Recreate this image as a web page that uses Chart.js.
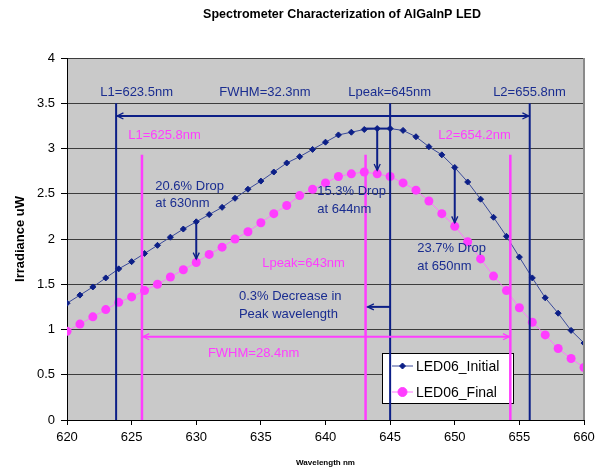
<!DOCTYPE html>
<html>
<head>
<meta charset="utf-8">
<script src="https://cdn.jsdelivr.net/npm/chart.js@4.4.1/dist/chart.umd.min.js"></script>
<style>
  body { margin: 0; background: #ffffff; }
  #wrap { width: 610px; height: 472px; }
</style>
</head>
<body>
<div id="wrap"><canvas id="spectroChart" width="610" height="472"></canvas></div>
<script>
// wavelength (nm), one reading per nm
const wavelengths = [
  620, 621, 622, 623, 624, 625, 626, 627, 628, 629,
  630, 631, 632, 633, 634, 635, 636, 637, 638, 639,
  640, 641, 642, 643, 644, 645, 646, 647, 648, 649,
  650, 651, 652, 653, 654, 655, 656, 657, 658, 659, 660
];

// irradiance (uW)
const initialIrr = [
  1.29, 1.38, 1.47, 1.57, 1.67, 1.75, 1.84, 1.93, 2.02, 2.11,
  2.19, 2.27, 2.35, 2.45, 2.55, 2.64, 2.74, 2.84, 2.91, 2.99,
  3.07, 3.15, 3.18, 3.21, 3.22, 3.22, 3.20, 3.13, 3.02, 2.93,
  2.79, 2.63, 2.44, 2.24, 2.03, 1.80, 1.57, 1.35, 1.18, 0.99, 0.85
];

const finalIrr = [
  0.98, 1.06, 1.14, 1.22, 1.30, 1.36, 1.43, 1.50, 1.58, 1.66,
  1.74, 1.83, 1.91, 2.00, 2.08, 2.18, 2.28, 2.37, 2.48, 2.55,
  2.62, 2.69, 2.72, 2.74, 2.72, 2.69, 2.62, 2.54, 2.42, 2.28,
  2.14, 1.97, 1.78, 1.59, 1.43, 1.24, 1.08, 0.94, 0.79, 0.68, 0.58
];

const xTicks = [620, 625, 630, 635, 640, 645, 650, 655, 660];
const yTicks = [0, 0.5, 1, 1.5, 2, 2.5, 3, 3.5, 4];

// L1, Lpeak, L2 marker lines
const initialMarks = [623.8, 645, 655.8];
const finalMarks = [625.8, 643.1, 654.3];
const initialMarkTop = 3.5;
const finalMarkTop = 2.93;
const initialFwhmLevel = 3.36;
const finalFwhmLevel = 0.92;
const shiftLevel = 1.25;
const dropAt = [630, 644, 650];

const NAVY = '#0c1f87';
const NAVY_TEXT = '#1a2d90';
const PINK = '#ff3dff';
const FONT = '"Liberation Sans", Arial, sans-serif';

const labelsText = [
  { t: 'L1=623.5nm',       x: 622.58, y: 3.62, c: NAVY_TEXT },
  { t: 'FWHM=32.3nm',      x: 631.78, y: 3.62, c: NAVY_TEXT },
  { t: 'Lpeak=645nm',      x: 641.76, y: 3.62, c: NAVY_TEXT },
  { t: 'L2=655.8nm',       x: 652.97, y: 3.62, c: NAVY_TEXT },
  { t: 'L1=625.8nm',       x: 624.74, y: 3.14, c: PINK },
  { t: 'L2=654.2nm',       x: 648.72, y: 3.14, c: PINK },
  { t: '20.6% Drop',       x: 626.83, y: 2.58, c: NAVY_TEXT },
  { t: 'at 630nm',         x: 626.83, y: 2.39, c: NAVY_TEXT },
  { t: '15.3% Drop',       x: 639.36, y: 2.53, c: NAVY_TEXT },
  { t: 'at 644nm',         x: 639.36, y: 2.33, c: NAVY_TEXT },
  { t: 'Lpeak=643nm',      x: 635.1,  y: 1.735, c: PINK },
  { t: '23.7% Drop',       x: 647.1,  y: 1.90, c: NAVY_TEXT },
  { t: 'at 650nm',         x: 647.1,  y: 1.70, c: NAVY_TEXT },
  { t: '0.3% Decrease in', x: 633.3,  y: 1.37, c: NAVY_TEXT },
  { t: 'Peak wavelength',  x: 633.3,  y: 1.17, c: NAVY_TEXT },
  { t: 'FWHM=28.4nm',      x: 630.9,  y: 0.74, c: PINK }
];

function seg(ctx, x1, y1, x2, y2, color, w) {
  ctx.beginPath();
  ctx.strokeStyle = color;
  ctx.lineWidth = w;
  ctx.moveTo(x1, y1);
  ctx.lineTo(x2, y2);
  ctx.stroke();
}

function arrowHead(ctx, x, y, angle, color) {
  const len = 7;
  ctx.beginPath();
  ctx.strokeStyle = color;
  ctx.lineWidth = 1.3;
  ctx.moveTo(x - len * Math.cos(angle - 0.45), y - len * Math.sin(angle - 0.45));
  ctx.lineTo(x, y);
  ctx.lineTo(x - len * Math.cos(angle + 0.45), y - len * Math.sin(angle + 0.45));
  ctx.stroke();
}

const decorPlugin = {
  id: 'decor',
  beforeDraw(chart) {
    const { ctx, chartArea: a } = chart;
    ctx.save();
    ctx.fillStyle = '#c9c9c9';
    ctx.fillRect(a.left, a.top, a.right - a.left, a.bottom - a.top);
    ctx.restore();
  },
  afterDatasetsDraw(chart) {
    const { ctx, chartArea: a } = chart;
    const xs = chart.scales.x;
    const ys = chart.scales.y;
    const px = v => xs.getPixelForValue(v);
    const py = v => ys.getPixelForValue(v);
    ctx.save();

    // right border of the plot
    seg(ctx, a.right, a.top, a.right, a.bottom, '#8a8a8a', 2);

    // legend box
    const lx = a.left + 315, ly = a.top + 295, lw = 131, lh = 50;
    ctx.fillStyle = '#ffffff';
    ctx.fillRect(lx, ly, lw, lh);
    ctx.strokeStyle = '#000000';
    ctx.lineWidth = 1;
    ctx.strokeRect(lx + 0.5, ly + 0.5, lw, lh);
    const legendRows = [
      { name: 'LED06_Initial', line: '#3a4a9a', dot: NAVY, style: 'rectRot', r: 3 },
      { name: 'LED06_Final', line: '#ff77ff', dot: PINK, style: 'circle', r: 4.5 }
    ];
    legendRows.forEach((row, i) => {
      const ry = ly + 13 + i * 26;
      seg(ctx, lx + 10, ry, lx + 31, ry, row.line, 1);
      ctx.fillStyle = row.dot;
      ctx.strokeStyle = row.dot;
      Chart.helpers.drawPoint(ctx, { pointStyle: row.style, radius: row.r, borderWidth: 1 }, lx + 20.5, ry);
      ctx.fillStyle = '#000000';
      ctx.font = '14px ' + FONT;
      ctx.textAlign = 'left';
      ctx.textBaseline = 'middle';
      ctx.fillText(row.name, lx + 34, ry + 1);
    });

    // marker lines
    initialMarks.forEach(m => seg(ctx, px(m), py(initialMarkTop), px(m), a.bottom, NAVY, 2));
    finalMarks.forEach(m => seg(ctx, px(m), py(finalMarkTop), px(m), a.bottom, PINK, 2.5));

    // FWHM arrows
    const fy1 = py(initialFwhmLevel);
    seg(ctx, px(initialMarks[0]) + 1, fy1, px(initialMarks[2]) - 1, fy1, NAVY, 2);
    arrowHead(ctx, px(initialMarks[0]) + 1, fy1, Math.PI, NAVY);
    arrowHead(ctx, px(initialMarks[2]) - 1, fy1, 0, NAVY);

    const fy2 = py(finalFwhmLevel);
    seg(ctx, px(finalMarks[0]) + 1, fy2, px(finalMarks[2]) - 1, fy2, PINK, 2);
    arrowHead(ctx, px(finalMarks[0]) + 1, fy2, Math.PI, PINK);
    arrowHead(ctx, px(finalMarks[2]) - 1, fy2, 0, PINK);

    // peak shift arrow
    const sy = py(shiftLevel);
    seg(ctx, px(initialMarks[1]), sy, px(finalMarks[1]) + 2, sy, NAVY, 2);
    arrowHead(ctx, px(finalMarks[1]) + 2, sy, Math.PI, NAVY);

    // flat top around the initial peak
    seg(ctx, px(643), py(3.22), px(645), py(3.22), NAVY, 2);

    // drop arrows
    dropAt.forEach(w => {
      const i = wavelengths.indexOf(w);
      const x = px(w);
      const y1 = py(initialIrr[i]);
      const y2 = py(finalIrr[i] + 0.04);
      seg(ctx, x, y1, x, y2, NAVY, 2);
      arrowHead(ctx, x, y2, Math.PI / 2, NAVY);
    });

    // annotation texts
    ctx.font = '13px ' + FONT;
    ctx.textAlign = 'left';
    ctx.textBaseline = 'middle';
    labelsText.forEach(l => {
      ctx.fillStyle = l.c;
      ctx.fillText(l.t, px(l.x), py(l.y));
    });

    // titles
    ctx.fillStyle = '#000000';
    ctx.textAlign = 'center';
    ctx.font = 'bold 12.5px ' + FONT;
    ctx.fillText('Spectrometer Characterization of AlGaInP LED', 342, 15);
    ctx.font = 'bold 8px ' + FONT;
    ctx.fillText('Wavelength nm', (a.left + a.right) / 2, 463);
    ctx.save();
    ctx.translate(20, (a.top + a.bottom) / 2);
    ctx.rotate(-Math.PI / 2);
    ctx.font = 'bold 13px ' + FONT;
    ctx.fillText('Irradiance uW', 0, 0);
    ctx.restore();

    ctx.restore();
  }
};

new Chart(document.getElementById('spectroChart'), {
  type: 'line',
  data: {
    datasets: [
      {
        label: 'LED06_Initial',
        data: wavelengths.map((w, i) => ({ x: w, y: initialIrr[i] })),
        borderColor: '#3a4a9a',
        borderWidth: 1,
        pointStyle: 'rectRot',
        pointRadius: 3,
        pointBackgroundColor: NAVY,
        pointBorderColor: NAVY,
        pointBorderWidth: 1,
        tension: 0
      },
      {
        label: 'LED06_Final',
        data: wavelengths.map((w, i) => ({ x: w, y: finalIrr[i] })),
        borderColor: '#ff77ff',
        borderWidth: 1,
        pointStyle: 'circle',
        pointRadius: 4.5,
        pointBackgroundColor: PINK,
        pointBorderColor: PINK,
        pointBorderWidth: 0,
        tension: 0
      }
    ]
  },
  options: {
    responsive: false,
    animation: false,
    layout: { padding: { left: 0, top: 58, right: 26, bottom: 0 } },
    plugins: {
      legend: { display: false },
      tooltip: { enabled: false },
      title: { display: false }
    },
    scales: {
      x: {
        type: 'linear',
        min: 620,
        max: 660,
        afterFit: s => { s.height = 52; },
        afterBuildTicks: s => { s.ticks = xTicks.map(v => ({ value: v })); },
        grid: { drawOnChartArea: false, drawTicks: true, tickLength: 5, color: '#000000' },
        border: { color: '#000000', width: 1 },
        ticks: { color: '#000000', font: { size: 13, family: FONT }, padding: 5, maxRotation: 0 }
      },
      y: {
        min: 0,
        max: 4,
        afterFit: s => { s.width = 67; },
        afterBuildTicks: s => { s.ticks = yTicks.map(v => ({ value: v })); },
        grid: { color: '#3c3c3c', lineWidth: 1, tickLength: 6, tickColor: '#000000' },
        border: { color: '#000000', width: 1 },
        ticks: {
          color: '#000000',
          font: { size: 13, family: FONT },
          padding: 6,
          callback: v => String(v)
        }
      }
    }
  },
  plugins: [decorPlugin]
});
</script>
</body>
</html>
